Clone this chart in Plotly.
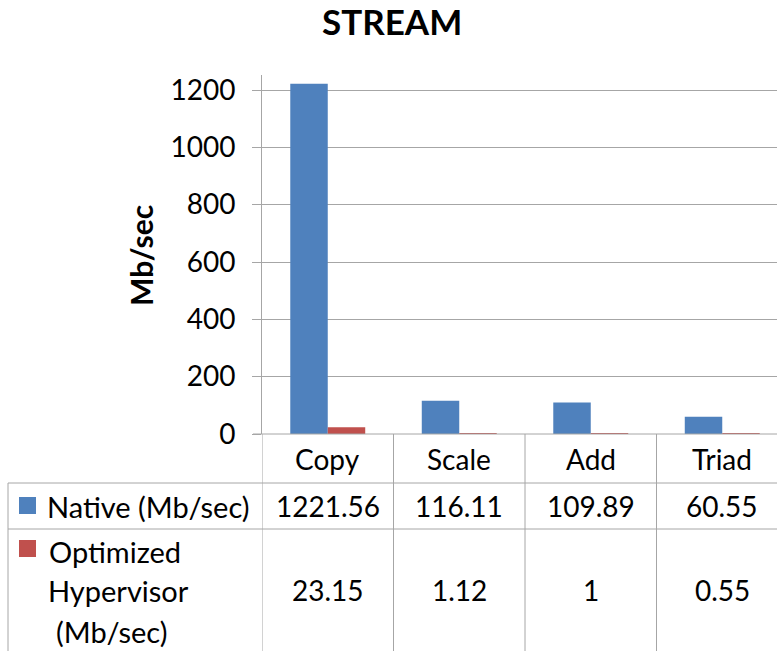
import plotly.graph_objects as go

# STREAM memory bandwidth benchmark results
categories = ["Copy", "Scale", "Add", "Triad"]
native = [1221.56, 116.11, 109.89, 60.55]
optimized = [23.15, 1.12, 1, 0.55]
native_text = ["1221.56", "116.11", "109.89", "60.55"]
optimized_text = ["23.15", "1.12", "1", "0.55"]
y_ticks = [0, 200, 400, 600, 800, 1000, 1200]

W, H = 777, 651
BLUE = "#4F81BD"
RED = "#C0504D"
GRID = "#A6A6A6"
FONT = "Lato"
TXT = 28


def py(pix):
    """Pixel row (from top) -> paper y."""
    return 1 - pix / H


def px(pix):
    return pix / W


fig = go.Figure()
fig.add_trace(go.Bar(x=categories, y=native, name="Native (Mb/sec)",
                     marker=dict(color=BLUE, line=dict(width=0))))
fig.add_trace(go.Bar(x=categories, y=optimized, name="Optimized Hypervisor (Mb/sec)",
                     marker=dict(color=RED, line=dict(width=0))))

plot_left, plot_top, plot_bottom = 262, 75, 434
cat_w = 131.5
x_hi = -0.5 + (W - plot_left) / cat_w

fig.update_layout(
    width=W, height=H, autosize=False,
    margin=dict(l=0, r=0, t=0, b=0, pad=0),
    paper_bgcolor="white", plot_bgcolor="white",
    showlegend=False,
    barmode="group", bargap=0.43, bargroupgap=0,
    font=dict(family=FONT, color="black"),
    xaxis=dict(domain=[px(plot_left), 1], range=[-0.5, x_hi], automargin=False,
               showticklabels=False, showgrid=False, zeroline=False,
               showline=False, ticks=""),
    yaxis=dict(domain=[py(plot_bottom), py(plot_top)], automargin=False,
               range=[0, 1200 * (plot_bottom - plot_top) / 344],
               tickvals=y_ticks, ticks="outside", ticklen=9, tickcolor=GRID,
               tickfont=dict(size=28, family=FONT), ticklabelstandoff=11,
               showgrid=True, gridcolor=GRID, gridwidth=1,
               showline=True, linecolor=GRID, linewidth=1, zeroline=False),
)

shapes = []
annotations = []

# title and axis title
annotations.append(dict(text="<b>STREAM</b>", x=px(392), y=py(21), xref="paper", yref="paper",
                        showarrow=False, font=dict(size=35, family=FONT),
                        xanchor="center", yanchor="middle"))
annotations.append(dict(text="<b>Mb/sec</b>", x=px(141), y=py(256), xref="paper", yref="paper",
                        showarrow=False, textangle=-90, font=dict(size=30, family=FONT),
                        xanchor="center", yanchor="middle"))

# baseline extending left of the axis
shapes.append(dict(type="line", xref="paper", yref="paper", x0=px(253), x1=1,
                   y0=py(plot_bottom), y1=py(plot_bottom), line=dict(color=GRID, width=1)))

# data table grid
row1, row2 = 483, 529
for yy in (row1, row2):
    shapes.append(dict(type="line", xref="paper", yref="paper", x0=px(8), x1=1,
                       y0=py(yy), y1=py(yy), line=dict(color=GRID, width=1)))
shapes.append(dict(type="line", xref="paper", yref="paper", x0=px(8), x1=px(8),
                   y0=py(row1), y1=0, line=dict(color=GRID, width=1)))
for b in [-0.5, 0.5, 1.5, 2.5]:
    shapes.append(dict(type="line", xref="x", yref="paper", x0=b, x1=b,
                       y0=py(plot_bottom), y1=0, line=dict(color=GRID, width=1)))

# header row: category names
for c in categories:
    annotations.append(dict(text=c, x=c, y=py(459), xref="x", yref="paper", showarrow=False,
                            font=dict(size=TXT, family=FONT), xanchor="center", yanchor="middle"))

# value rows
for c, t in zip(categories, native_text):
    annotations.append(dict(text=t, x=c, y=py(506), xref="x", yref="paper", showarrow=False,
                            font=dict(size=TXT, family=FONT), xanchor="center", yanchor="middle"))
for c, t in zip(categories, optimized_text):
    annotations.append(dict(text=t, x=c, y=py(590), xref="x", yref="paper", showarrow=False,
                            font=dict(size=TXT, family=FONT), xanchor="center", yanchor="middle"))

# legend keys in the table
shapes.append(dict(type="rect", xref="paper", yref="paper", x0=px(19), x1=px(36),
                   y0=py(514), y1=py(497), fillcolor=BLUE, line=dict(width=0)))
shapes.append(dict(type="rect", xref="paper", yref="paper", x0=px(19), x1=px(36),
                   y0=py(557), y1=py(540), fillcolor=RED, line=dict(width=0)))

legend_lines = [("Native (Mb/sec)", 45, 506), ("Optimized", 47, 551),
                ("Hypervisor", 46, 590), ("(Mb/sec)", 54, 631)]
for t, lx, ly in legend_lines:
    annotations.append(dict(text=t, x=px(lx), y=py(ly), xref="paper", yref="paper",
                            showarrow=False, font=dict(size=29, family=FONT),
                            xanchor="left", yanchor="middle"))

fig.update_layout(shapes=shapes, annotations=annotations)
fig.write_html("out.html", config={"responsive": False})
